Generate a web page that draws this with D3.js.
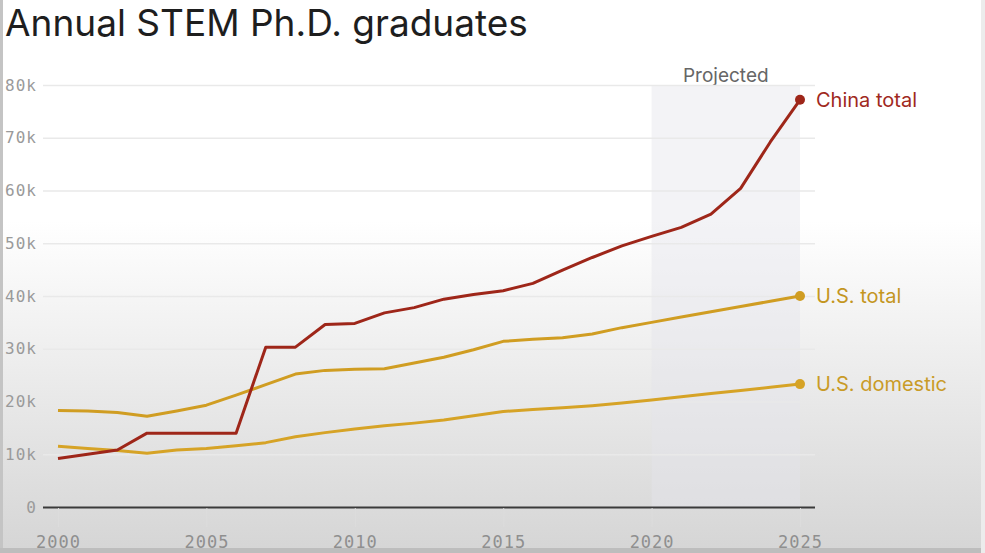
<!DOCTYPE html>
<html>
<head>
<meta charset="utf-8">
<script src="https://cdn.jsdelivr.net/npm/d3@7"></script>
<style>
  html, body { margin: 0; padding: 0; background: #fff; }
  svg { display: block; }
</style>
</head>
<body>
<div id="chart"></div>
<script>
var svgWidth = 985;
var svgHeight = 553;

var margin = { top: 85, right: 185, bottom: 46, left: 58 };

var width = 800 - margin.left;
var height = 507 - margin.top;

// data
var years = d3.range(2000, 2026);
var chinaTotal = [9.2, 10.0, 10.8, 14.0, 14.0, 14.0, 14.0, 30.3, 30.3, 34.6, 34.8, 36.8, 37.8, 39.4, 40.3, 41.0, 42.4, 44.9, 47.3, 49.5, 51.3, 53.0, 55.5, 60.4, 69.2, 77.2];
var usTotal = [18.3, 18.2, 17.9, 17.2, 18.2, 19.3, 21.2, 23.2, 25.2, 25.9, 26.1, 26.2, 27.3, 28.4, 29.8, 31.4, 31.8, 32.1, 32.8, 34.0, 35.0, 36.0, 37.0, 38.0, 39.0, 40.0];
var usDomestic = [11.5, 11.1, 10.7, 10.2, 10.8, 11.1, 11.6, 12.2, 13.3, 14.1, 14.8, 15.4, 15.9, 16.5, 17.3, 18.1, 18.5, 18.8, 19.2, 19.7, 20.3, 20.9, 21.5, 22.1, 22.7, 23.3];
var seriesNames = ["China total", "U.S. total", "U.S. domestic"];
var seriesColors = ["#9e2619", "#d09d22", "#d6a326"];
var labelColors = ["#a0291e", "#c4961f", "#c99b27"];
var yTicks = [0, 10, 20, 30, 40, 50, 60, 70, 80];
var xTicks = [2000, 2005, 2010, 2015, 2020, 2025];
var projectedStart = 2020;
var projectedEnd = 2025;

var series = [chinaTotal, usTotal, usDomestic];

var svg = d3.select("#chart")
  .append("svg")
  .attr("width", svgWidth)
  .attr("height", svgHeight);

// background fade like the screenshot
var defs = svg.append("defs");
var grad = defs.append("linearGradient")
  .attr("id", "bg")
  .attr("x1", 0).attr("y1", 0).attr("x2", 0).attr("y2", 1);
grad.append("stop").attr("offset", "0%").attr("stop-color", "#ffffff");
grad.append("stop").attr("offset", "40%").attr("stop-color", "#ffffff");
grad.append("stop").attr("offset", "100%").attr("stop-color", "#d5d5d5");

svg.append("rect")
  .attr("width", svgWidth)
  .attr("height", svgHeight)
  .attr("fill", "url(#bg)");

// frame edges
svg.append("rect").attr("x", 0).attr("y", 0).attr("width", 3).attr("height", svgHeight).attr("fill", "#c4c4c4");
svg.append("rect").attr("x", 0).attr("y", 548).attr("width", svgWidth).attr("height", 5).attr("fill", "#bdbdbd");
svg.append("rect").attr("x", 981).attr("y", 0).attr("width", 4).attr("height", svgHeight).attr("fill", "#ececec");

var chartGroup = svg.append("g")
  .attr("transform", `translate(${margin.left}, ${margin.top})`);

var xScale = d3.scaleLinear()
  .domain([2000, 2025])
  .range([0, width]);

var yScale = d3.scaleLinear()
  .domain([0, 80])
  .range([height, 0]);

// projected band
chartGroup.append("rect")
  .attr("x", xScale(projectedStart))
  .attr("y", yScale(80))
  .attr("width", xScale(projectedEnd) - xScale(projectedStart))
  .attr("height", yScale(0) - yScale(80))
  .attr("fill", "#e4e4ea")
  .attr("opacity", 0.45);

chartGroup.append("text")
  .attr("x", (xScale(projectedStart) + xScale(projectedEnd)) / 2)
  .attr("y", yScale(80) - 3)
  .attr("text-anchor", "middle")
  .attr("font-family", "Inter, 'Noto Sans', sans-serif")
  .attr("font-size", 19)
  .attr("fill", "#666")
  .text("Projected");

// y axis: gridlines + labels
var leftAxis = d3.axisLeft(yScale)
  .tickValues(yTicks)
  .tickSize(-(width + 30))
  .tickPadding(6)
  .tickFormat(d => d === 0 ? "0" : d + "k");

var yAxis = chartGroup.append("g")
  .attr("transform", "translate(-15, 0)")
  .call(leftAxis);
yAxis.select(".domain").remove();
yAxis.selectAll(".tick line")
  .attr("stroke", d => d === 0 ? "#3a3a3a" : "#e9e9e9")
  .attr("stroke-width", d => d === 0 ? 2 : 1.5);
yAxis.selectAll(".tick text")
  .attr("font-family", "'DejaVu Sans Mono', monospace")
  .attr("font-size", 16)
  .attr("letter-spacing", 1)
  .attr("fill", "#9a9a9a");

// x axis
var bottomAxis = d3.axisBottom(xScale)
  .tickValues(xTicks)
  .tickSize(19)
  .tickPadding(9)
  .tickFormat(d3.format("d"));

var xAxis = chartGroup.append("g")
  .attr("transform", `translate(0, ${height + 1})`)
  .call(bottomAxis);
xAxis.select(".domain").remove();
xAxis.selectAll(".tick line")
  .attr("stroke", "#dcdcdc")
  .attr("stroke-width", 1);
xAxis.selectAll(".tick text")
  .attr("font-family", "'DejaVu Sans Mono', monospace")
  .attr("font-size", 17)
  .attr("letter-spacing", 1)
  .attr("fill", "#8f8f8f");

// lines
var line = d3.line()
  .x((d, i) => xScale(years[i]))
  .y(d => yScale(d));

// draw gold first, red on top
[2, 1, 0].forEach(function(k) {
  chartGroup.append("path")
    .datum(series[k])
    .attr("fill", "none")
    .attr("stroke", seriesColors[k])
    .attr("stroke-width", 3)
    .attr("stroke-linejoin", "round")
    .attr("d", line);

  var last = series[k][series[k].length - 1];
  chartGroup.append("circle")
    .attr("cx", xScale(2025))
    .attr("cy", yScale(last))
    .attr("r", 5)
    .attr("fill", seriesColors[k]);

  chartGroup.append("text")
    .attr("x", xScale(2025) + 16)
    .attr("y", yScale(last))
    .attr("dy", "0.35em")
    .attr("font-family", "Inter, 'Noto Sans', sans-serif")
    .attr("font-size", 20)
    .attr("fill", labelColors[k])
    .text(seriesNames[k]);
});

// title
svg.append("text")
  .attr("x", 5)
  .attr("y", 36)
  .attr("font-family", "Inter, 'Noto Sans', sans-serif")
  .attr("font-size", 37)
  .attr("fill", "#1e1e1e")
  .text("Annual STEM Ph.D. graduates");
</script>
</body>
</html>
